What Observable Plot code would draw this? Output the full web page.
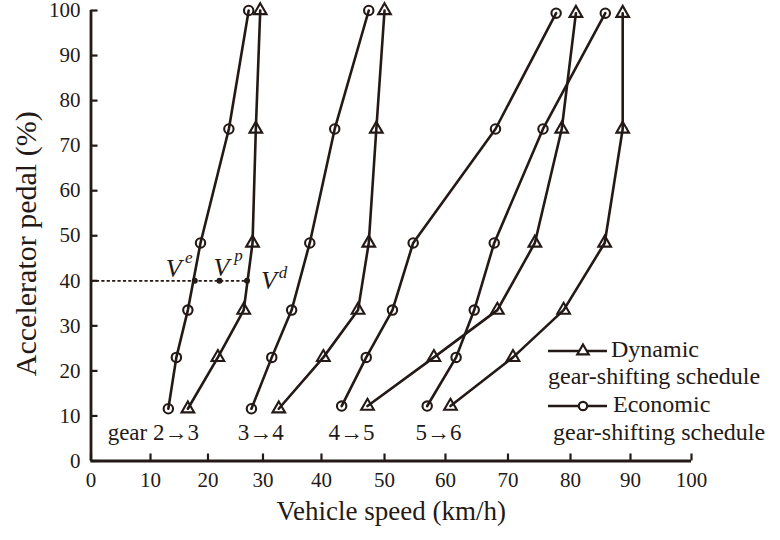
<!DOCTYPE html>
<html>
<head>
<meta charset="utf-8">
<script src="https://cdn.jsdelivr.net/npm/d3@7"></script>
<script src="https://cdn.jsdelivr.net/npm/@observablehq/plot@0.6"></script>
<style>
  html, body { margin: 0; padding: 0; background: #fff; }
  #wrap { position: relative; width: 780px; height: 540px; font-family: "Liberation Serif", "Times New Roman", serif; }
  #legend { position: absolute; left: 0; top: 0; pointer-events: none; }
</style>
</head>
<body>
<div id="wrap"></div>
<script>
// ---------- data ----------
const xTicks = [0, 10, 20, 30, 40, 50, 60, 70, 80, 90, 100];
const yTicks = [0, 10, 20, 30, 40, 50, 60, 70, 80, 90, 100];

const shiftLabels = ["gear 2\u21923", "3\u21924", "4\u21925", "5\u21926"];
const shiftLabelSpeed = [2.8, 25.4, 41.1, 55.1];
const shiftLabelPedal = [6.2, 6.2, 6.2, 6.2];

// accelerator pedal levels (%) of the shift points
const pedalLow = [11.6, 23, 33.5, 48.4, 73.7, 100];    // 2→3, 3→4
const pedalHigh = [12.2, 23, 33.5, 48.4, 73.7, 99.4];  // 4→5, 5→6

// economic schedule, vehicle speed (km/h)
const econ23 = [13.1, 14.5, 16.5, 18.7, 23.8, 27.4];
const econ34 = [27.9, 31.5, 34.9, 38.0, 42.1, 47.5];
const econ45 = [43.2, 47.1, 51.3, 54.7, 68.0, 77.7];
const econ56 = [57.0, 61.7, 64.6, 67.8, 75.6, 85.8];

// dynamic schedule, vehicle speed (km/h)
const dyn23 = [16.5, 21.8, 26.5, 28.1, 28.7, 29.5];
const dyn34 = [32.7, 40.3, 45.8, 47.5, 48.7, 50.0];
const dyn45 = [47.3, 58.1, 68.3, 74.3, 78.6, 80.9];
const dyn56 = [60.8, 70.8, 78.9, 85.7, 88.7, 88.7];

// reference pedal line and the three marked speeds
const refPedal = 40;
const vTags = ["e", "p", "d"];
const vSpeeds = [17.7, 22.1, 27.1];

const legendNames = ["Dynamic", "Economic"];
const legendSub = "gear-shifting schedule";

// ---------- build tables ----------
const ink = "#231916";
const curveDefs = [
  ["econ", "2\u21923", econ23, pedalLow], ["econ", "3\u21924", econ34, pedalLow],
  ["econ", "4\u21925", econ45, pedalHigh], ["econ", "5\u21926", econ56, pedalHigh],
  ["dyn", "2\u21923", dyn23, pedalLow], ["dyn", "3\u21924", dyn34, pedalLow],
  ["dyn", "4\u21925", dyn45, pedalHigh], ["dyn", "5\u21926", dyn56, pedalHigh]
];
const rows = [];
for (const [kind, shift, speeds, pedals] of curveDefs) {
  speeds.forEach((s, i) => rows.push({kind, shift, curve: kind + shift, speed: s, pedal: pedals[i]}));
}
const econRows = rows.filter(d => d.kind === "econ");
const dynRows = rows.filter(d => d.kind === "dyn");
const shiftText = shiftLabels.map((t, i) => ({t, speed: shiftLabelSpeed[i], pedal: shiftLabelPedal[i]}));
const vPts = vTags.map((tag, i) => ({tag, speed: vSpeeds[i], pedal: refPedal}));

// The reference's x axis is drawn with slightly uneven tick spacing:
// a piecewise warp from km/h to the drawn (linear) position on a 0–100 scale.
const xWarp = d3.scaleLinear()
  .domain(xTicks)
  .range([0, 9.91, 19.48, 28.64, 38.38, 48.88, 59.03, 69.44, 79.85, 89.84, 100]);
const X = d => xWarp(d.speed);

// label offsets (style) for V^e, V^p, V^d
const vOffsets = {
  e: {V: [-21, -12], s: [-6, -23]},
  p: {V: [2, -13], s: [19, -25]},
  d: {V: [22, 0], s: [36, -8]}
};

const serif = '"Liberation Serif", "Times New Roman", serif';
const vMarks = [];
for (const tag of vTags) {
  const o = vOffsets[tag];
  const data = vPts.filter(d => d.tag === tag);
  vMarks.push(Plot.text(data, {x: X, y: "pedal", text: () => "V", dx: o.V[0], dy: o.V[1],
    fontSize: 26, fontStyle: "italic", fill: ink}));
  vMarks.push(Plot.text(data, {x: X, y: "pedal", text: "tag", dx: o.s[0], dy: o.s[1],
    fontSize: 17, fontStyle: "italic", fill: ink}));
}

const chart = Plot.plot({
  width: 780,
  height: 540,
  marginLeft: 90.5,
  marginRight: 89,
  marginTop: 10,
  marginBottom: 79.5,
  style: {fontFamily: serif, color: ink, background: "#fff", overflow: "visible"},
  x: {type: "linear", domain: [0, 100]},
  y: {domain: [0, 100]},
  marks: [
    Plot.axisX(xTicks.map(v => xWarp(v)), {tickSize: -7, tickPadding: 18.5, fontSize: 21, label: null, strokeWidth: 2.2,
      tickFormat: v => String(Math.round(xWarp.invert(v)))}),
    Plot.axisY(yTicks, {tickSize: -7, tickPadding: 17.5, fontSize: 21, label: null, strokeWidth: 2.2}),
    Plot.ruleY([0], {stroke: ink, strokeWidth: 2.8}),
    Plot.ruleX([0], {stroke: ink, strokeWidth: 2.8}),
    Plot.ruleY([refPedal], {x1: 0, x2: xWarp(vSpeeds[2]), stroke: ink, strokeWidth: 1.8, strokeDasharray: "3.2,2.2"}),
    Plot.line(rows, {x: X, y: "pedal", z: "curve", stroke: ink, strokeWidth: 2.6}),
    Plot.dot(econRows, {x: X, y: "pedal", symbol: "circle", r: 4.7, stroke: ink, strokeWidth: 2.1, fill: "none"}),
    Plot.dot(dynRows, {x: X, y: "pedal", symbol: "triangle", r: 4.7, stroke: ink, strokeWidth: 2.1, fill: "none"}),
    Plot.dot(vPts, {x: X, y: "pedal", r: 3, fill: ink, stroke: "none"}),
    ...vMarks,
    Plot.text(shiftText, {x: X, y: "pedal", text: "t", textAnchor: "start", fontSize: 23, fill: ink}),
    Plot.text(["Accelerator pedal (%)"], {frameAnchor: "left", textAnchor: "middle", rotate: -90, dx: -65, dy: 8, fontSize: 30, fill: ink}),
    Plot.text(["Vehicle speed (km/h)"], {frameAnchor: "bottom", textAnchor: "middle", dy: 59, fontSize: 27, fill: ink})
  ]
});

const wrap = document.getElementById("wrap");
wrap.appendChild(chart);

// ---------- legend (overlay) ----------
const leg = d3.select(wrap).append("svg").attr("id", "legend").attr("width", 780).attr("height", 540)
  .style("font-family", serif).style("fill", ink);
const legRows = [
  {name: legendNames[0], lineY: 351, nameX: 611, nameBase: 357, subX: 548, subBase: 384, sym: d3.symbolTriangle},
  {name: legendNames[1], lineY: 406, nameX: 613, nameBase: 412, subX: 553, subBase: 440, sym: d3.symbolCircle}
];
for (const r of legRows) {
  leg.append("line").attr("x1", 548).attr("x2", 607).attr("y1", r.lineY).attr("y2", r.lineY)
    .attr("stroke", ink).attr("stroke-width", 2.5);
  leg.append("path").attr("d", d3.symbol(r.sym, 56)()).attr("transform", `translate(583,${r.lineY})`)
    .attr("fill", "#fff").attr("stroke", ink).attr("stroke-width", 2.2);
  leg.append("text").attr("x", r.nameX).attr("y", r.nameBase).attr("font-size", 24).text(r.name);
  leg.append("text").attr("x", r.subX).attr("y", r.subBase).attr("font-size", 24).text(legendSub);
}
</script>
</body>
</html>
